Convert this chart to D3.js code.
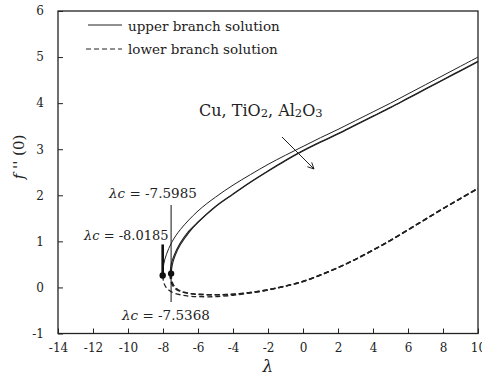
<!DOCTYPE html>
<html>
<head>
<meta charset="utf-8">
<script src="https://cdn.jsdelivr.net/npm/d3@7"></script>
<style>
  html, body { margin: 0; padding: 0; background: #fff; }
  svg { display: block; }
  text { font-family: "DejaVu Serif", serif; fill: #222; }
</style>
</head>
<body>
<svg id="chart" width="482" height="377"></svg>
<script>
// Axis ticks
const xTicks = [-14, -12, -10, -8, -6, -4, -2, 0, 2, 4, 6, 8, 10];
const yTicks = [-1, 0, 1, 2, 3, 4, 5, 6];

// Critical values of lambda (turning points) and f''(0) there
const lambdaC = { Cu: -8.0185, TiO2: -7.5985, Al2O3: -7.5368 };
const dotCu = [-8.0185, 0.26];
const dotAl2O3 = [-7.5368, 0.30];

// Upper branch solutions [lambda, f''(0)]
const upperCu = [
  [-8.0185, 0.26], [-7.95, 0.52], [-7.8, 0.72], [-7.5, 0.98], [-7.0, 1.26],
  [-6.0, 1.66], [-5.0, 1.96], [-4.0, 2.22], [-3.0, 2.45], [-2.0, 2.67],
  [-1.0, 2.87], [0, 3.06], [1, 3.25], [2, 3.43], [3, 3.62], [4, 3.81],
  [5, 4.0], [6, 4.2], [7, 4.4], [8, 4.6], [9, 4.8], [10, 5.0]
];
const upperTiO2 = [
  [-7.5985, 0.29], [-7.52, 0.52], [-7.36, 0.70], [-7.05, 0.94], [-6.55, 1.21],
  [-6.0, 1.42], [-5.0, 1.76], [-4.0, 2.03], [-3.0, 2.29], [-2.0, 2.53],
  [-1.0, 2.76], [0, 2.97], [1, 3.16], [2, 3.34], [3, 3.53], [4, 3.72],
  [5, 3.91], [6, 4.11], [7, 4.31], [8, 4.51], [9, 4.71], [10, 4.91]
];
const upperAl2O3 = [
  [-7.5368, 0.30], [-7.45, 0.52], [-7.3, 0.70], [-7.0, 0.93], [-6.5, 1.20],
  [-6.0, 1.41], [-5.0, 1.75], [-4.0, 2.02], [-3.0, 2.28], [-2.0, 2.52],
  [-1.0, 2.75], [0, 2.96], [1, 3.15], [2, 3.33], [3, 3.52], [4, 3.71],
  [5, 3.90], [6, 4.10], [7, 4.30], [8, 4.50], [9, 4.70], [10, 4.90]
];

// Lower branch solutions [lambda, f''(0)]
const lowerCu = [
  [-8.0185, 0.26], [-7.95, 0.10], [-7.8, -0.01], [-7.5, -0.10], [-7.0, -0.16],
  [-6.5, -0.19], [-6.0, -0.20], [-5.0, -0.20], [-4.0, -0.17], [-3.0, -0.12],
  [-2.0, -0.06], [-1.0, 0.03], [0, 0.13], [1, 0.27], [2, 0.43], [3, 0.61],
  [4, 0.81], [5, 1.02], [6, 1.25], [7, 1.48], [8, 1.71], [9, 1.93], [10, 2.15]
];
const lowerTiO2 = [
  [-7.5985, 0.29], [-7.54, 0.12], [-7.36, 0.0], [-7.05, -0.08], [-6.5, -0.13],
  [-6.0, -0.15], [-5.0, -0.16], [-4.0, -0.15], [-3.0, -0.11], [-2.0, -0.05],
  [-1.0, 0.03], [0, 0.13], [1, 0.27], [2, 0.43], [3, 0.61],
  [4, 0.81], [5, 1.02], [6, 1.25], [7, 1.48], [8, 1.71], [9, 1.93], [10, 2.15]
];
const lowerAl2O3 = [
  [-7.5368, 0.30], [-7.48, 0.12], [-7.3, 0.0], [-7.0, -0.08], [-6.5, -0.13],
  [-6.0, -0.15], [-5.0, -0.16], [-4.0, -0.15], [-3.0, -0.11], [-2.0, -0.05],
  [-1.0, 0.03], [0, 0.13], [1, 0.27], [2, 0.43], [3, 0.61],
  [4, 0.81], [5, 1.02], [6, 1.25], [7, 1.48], [8, 1.71], [9, 1.93], [10, 2.15]
];

const svg = d3.select("#chart");
const plotLeft = 58, plotRight = 478, plotTop = 11, plotBottom = 333.5;

const x = d3.scaleLinear().domain([-14, 10]).range([plotLeft, plotRight]);
const y = d3.scaleLinear().domain([-1, 6]).range([plotBottom, plotTop]);

// Axes with inward ticks; plain hyphen-minus labels
const fmt = d => String(d);
const xAxis = svg.append("g")
  .attr("transform", `translate(0,${plotBottom})`)
  .call(d3.axisBottom(x).tickValues(xTicks).tickFormat(fmt)
    .tickSizeInner(-5).tickSizeOuter(0).tickPadding(10));
const yAxis = svg.append("g")
  .attr("transform", `translate(${plotLeft},0)`)
  .call(d3.axisLeft(y).tickValues(yTicks).tickFormat(fmt)
    .tickSizeInner(-5).tickSizeOuter(0).tickPadding(14));

[xAxis, yAxis].forEach(g => {
  g.attr("font-family", null).attr("font-size", null);
  g.select(".domain").remove();
  g.selectAll("line").attr("stroke", "#222").attr("stroke-width", 1);
  g.selectAll("text")
    .style("font-family", '"DejaVu Serif", serif')
    .style("font-size", "12px")
    .attr("fill", "#222");
});

// Plot frame
svg.append("rect")
  .attr("x", plotLeft).attr("y", plotTop)
  .attr("width", plotRight - plotLeft).attr("height", plotBottom - plotTop)
  .attr("fill", "none").attr("stroke", "#222").attr("stroke-width", 1.3);

const line = d3.line()
  .x(d => x(d[0]))
  .y(d => y(d[1]))
  .curve(d3.curveCatmullRom.alpha(0.5));

// Lower branches (dashed)
[lowerCu, lowerTiO2, lowerAl2O3].forEach((data, i) => {
  svg.append("path")
    .datum(data)
    .attr("d", line)
    .attr("fill", "none")
    .attr("stroke", "#222")
    .attr("stroke-width", i === 0 ? 1.3 : 1.5)
    .attr("stroke-dasharray", "5,3");
});

// Upper branches (solid)
[upperCu, upperTiO2, upperAl2O3].forEach((data, i) => {
  svg.append("path")
    .datum(data)
    .attr("d", line)
    .attr("fill", "none")
    .attr("stroke", "#222")
    .attr("stroke-width", i === 0 ? 1.0 : 1.1);
});

// Critical-point markers
svg.append("line")
  .attr("x1", x(lambdaC.Cu)).attr("x2", x(lambdaC.Cu))
  .attr("y1", y(dotCu[1]) - 31).attr("y2", y(dotCu[1]))
  .attr("stroke", "#111").attr("stroke-width", 2.6);
svg.append("line")
  .attr("x1", x(lambdaC.Al2O3)).attr("x2", x(lambdaC.Al2O3))
  .attr("y1", 205).attr("y2", 302)
  .attr("stroke", "#111").attr("stroke-width", 1);

[dotCu, dotAl2O3].forEach(d => {
  svg.append("circle")
    .attr("cx", x(d[0])).attr("cy", y(d[1]))
    .attr("r", 3.2).attr("fill", "#111");
});

// Critical-value labels
function lambdaLabel(xPos, yPos, value, size) {
  const t = svg.append("text")
    .attr("x", xPos).attr("y", yPos)
    .style("font-size", size + "px");
  t.append("tspan").style("font-style", "italic").text("λc");
  t.append("tspan").text(" = " + value);
}
lambdaLabel(109, 198, lambdaC.TiO2, 13.5);
lambdaLabel(84, 240, lambdaC.Cu, 13);
lambdaLabel(122, 320, lambdaC.Al2O3, 13.5);

// Legend
svg.append("line")
  .attr("x1", 88).attr("x2", 122).attr("y1", 25).attr("y2", 25)
  .attr("stroke", "#222").attr("stroke-width", 1.2);
svg.append("text").attr("x", 128).attr("y", 31)
  .style("font-size", "13.5px").text("upper branch solution");
svg.append("line")
  .attr("x1", 86).attr("x2", 122).attr("y1", 49).attr("y2", 49)
  .attr("stroke", "#222").attr("stroke-width", 1.2)
  .attr("stroke-dasharray", "5,3");
svg.append("text").attr("x", 128).attr("y", 54)
  .style("font-size", "13.5px").text("lower branch solution");

// Nanoparticle annotation with arrow
const nano = svg.append("text").attr("x", 199).attr("y", 116).style("font-size", "16px");
nano.append("tspan").text("Cu, TiO");
nano.append("tspan").style("font-size", "11.5px").attr("dy", 1).text("2");
nano.append("tspan").attr("dy", -1).text(", Al");
nano.append("tspan").style("font-size", "11.5px").attr("dy", 1).text("2");
nano.append("tspan").attr("dy", -1).text("O");
nano.append("tspan").style("font-size", "11.5px").attr("dy", 1).text("3");

const ax1 = 282, ay1 = 137, ax2 = 314, ay2 = 169;
svg.append("line")
  .attr("x1", ax1).attr("y1", ay1).attr("x2", ax2).attr("y2", ay2)
  .attr("stroke", "#222").attr("stroke-width", 1);
const ang = Math.atan2(ay2 - ay1, ax2 - ax1);
[0.45, -0.45].forEach(a => {
  svg.append("line")
    .attr("x1", ax2).attr("y1", ay2)
    .attr("x2", ax2 - 7 * Math.cos(ang + a))
    .attr("y2", ay2 - 7 * Math.sin(ang + a))
    .attr("stroke", "#222").attr("stroke-width", 1);
});

// Axis titles
const yTitle = svg.append("text")
  .attr("transform", "translate(24,157) rotate(-90)")
  .attr("text-anchor", "middle")
  .style("font-size", "15px");
yTitle.append("tspan").style("font-style", "italic").text("f");
yTitle.append("tspan").text(" '' (0)");

svg.append("text")
  .attr("x", x(-2)).attr("y", 372)
  .attr("text-anchor", "middle")
  .style("font-size", "17px").style("font-style", "italic")
  .text("λ");
</script>
</body>
</html>
